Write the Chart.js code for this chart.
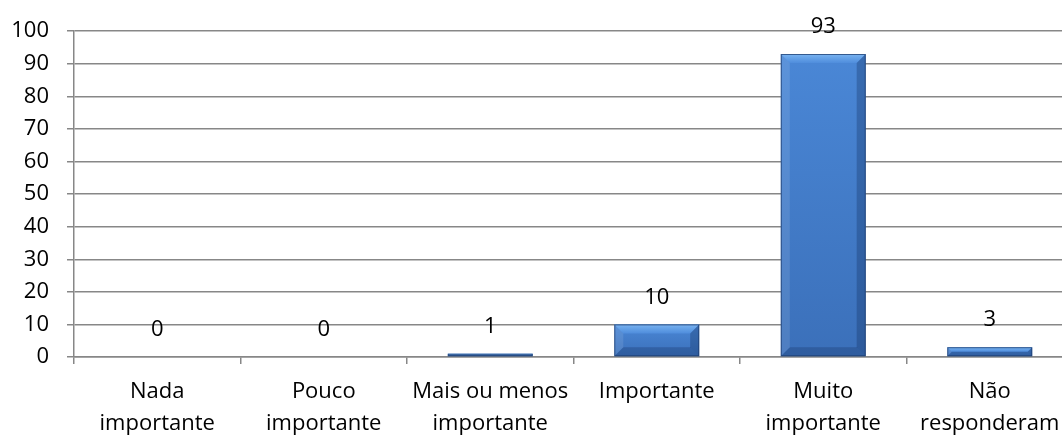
<!DOCTYPE html>
<html>
<head>
<meta charset="utf-8">
<script src="https://cdn.jsdelivr.net/npm/chart.js@4"></script>
<style>
  html, body { margin: 0; padding: 0; background: #fff; overflow: hidden; }
  #wrap { width: 1080px; height: 436px; }
</style>
</head>
<body>
<div id="wrap"><canvas id="importanceChart"></canvas></div>
<script>
/*******************************************************
 * DATA
 *******************************************************/
const CATEGORIES = [
  ["Nada", "importante"],
  ["Pouco", "importante"],
  ["Mais ou menos", "importante"],
  ["Importante"],
  ["Muito", "importante"],
  ["Não", "responderam"]
];
const RESPONSES = [0, 0, 1, 10, 93, 3];
const Y_TICKS = [0, 10, 20, 30, 40, 50, 60, 70, 80, 90, 100];

const FONT = { family: "'Open Sans', sans-serif", size: 22 };
const GRID_GRAY = "#878787";

/*******************************************************
 * PLUGINS
 *******************************************************/
// soft drop shadow under the bars
const barShadow = {
  id: "barShadow",
  beforeDatasetsDraw(chart) {
    const ctx = chart.ctx;
    ctx.save();
    ctx.shadowColor = "rgba(0,0,0,0.35)";
    ctx.shadowBlur = 5;
    ctx.shadowOffsetX = 1;
    ctx.shadowOffsetY = 3;
  },
  afterDatasetsDraw(chart) {
    chart.ctx.restore();
  }
};

// bevelled look on each bar + value on top
const bevelAndLabels = {
  id: "bevelAndLabels",
  afterDatasetsDraw(chart) {
    const ctx = chart.ctx;
    const meta = chart.getDatasetMeta(0);
    const values = chart.data.datasets[0].data;
    meta.data.forEach((bar, i) => {
      const p = bar.getProps(["x", "y", "base", "width"], true);
      const l = p.x - p.width / 2, r = p.x + p.width / 2;
      const t = Math.min(p.y, p.base), bt = Math.max(p.y, p.base);
      const h = bt - t;

      if (h >= 1) {
        const b = Math.min(9, h / 2, p.width / 2);
        ctx.save();
        // face gradient
        const g = ctx.createLinearGradient(0, t, 0, bt);
        g.addColorStop(0, "#4a87d6");
        g.addColorStop(1, "#3b70ba");
        ctx.fillStyle = g;
        ctx.fillRect(l, t, r - l, h);

        const poly = (pts, fill) => {
          ctx.beginPath();
          ctx.moveTo(pts[0][0], pts[0][1]);
          for (let k = 1; k < pts.length; k++) ctx.lineTo(pts[k][0], pts[k][1]);
          ctx.closePath();
          ctx.fillStyle = fill;
          ctx.fill();
        };
        // top bevel
        const tg = ctx.createLinearGradient(0, t, 0, t + b);
        tg.addColorStop(0, "#7db6f2");
        tg.addColorStop(0.35, "#6aa6ea");
        tg.addColorStop(1, "#4f8ddc");
        poly([[l, t], [r, t], [r - b, t + b], [l + b, t + b]], tg);
        // left bevel
        poly([[l, t], [l + b, t + b], [l + b, bt - b], [l, bt]], "rgba(255,255,255,0.10)");
        // right bevel
        poly([[r, t], [r, bt], [r - b, bt - b], [r - b, t + b]], "rgba(10,35,80,0.28)");
        // bottom bevel
        poly([[l, bt], [l + b, bt - b], [r - b, bt - b], [r, bt]], "rgba(10,35,80,0.25)");
        // outline
        ctx.strokeStyle = "rgba(30,60,110,0.75)";
        ctx.lineWidth = 1;
        ctx.strokeRect(l + 0.5, t + 0.5, r - l - 1, h - 1);
        ctx.restore();
      }

      // value label
      ctx.save();
      ctx.font = `${FONT.size}px ${FONT.family}`;
      ctx.fillStyle = "#000";
      ctx.textAlign = "center";
      ctx.textBaseline = "middle";
      ctx.fillText(String(values[i]), p.x, t - 27);
      ctx.restore();
    });
  }
};

/*******************************************************
 * CHART
 *******************************************************/
function renderChart() {
  const ctx = document.getElementById("importanceChart").getContext("2d");

  new Chart(ctx, {
    type: "bar",
    data: {
      labels: CATEGORIES,
      datasets: [
        {
          data: RESPONSES,
          backgroundColor: "rgba(0,0,0,0)",
          borderWidth: 0,
          categoryPercentage: 1,
          barPercentage: 0.51
        }
      ]
    },
    options: {
      responsive: false,
      animation: false,
      layout: { padding: { top: 28, right: 7, left: 0, bottom: 0 } },
      scales: {
        x: {
          grid: {
            display: true,
            drawOnChartArea: false,
            drawTicks: true,
            offset: true,
            tickLength: 7,
            color: GRID_GRAY,
            lineWidth: 1.5
          },
          border: { display: true, color: GRID_GRAY, width: 1.5 },
          ticks: {
            color: "#000",
            font: { ...FONT, lineHeight: "32px" },
            padding: 12,
            maxRotation: 0,
            autoSkip: false
          },
          afterFit(scale) { scale.height = 79; }
        },
        y: {
          min: 0,
          max: 100,
          afterBuildTicks(scale) {
            scale.ticks = Y_TICKS.map(v => ({ value: v }));
          },
          grid: {
            color: GRID_GRAY,
            lineWidth: 1.5,
            tickLength: 7
          },
          border: { display: true, color: GRID_GRAY, width: 1.5 },
          ticks: {
            color: "#000",
            font: FONT,
            padding: 18
          },
          afterFit(scale) { scale.width = 74; }
        }
      },
      plugins: {
        legend: { display: false },
        tooltip: { enabled: false }
      }
    },
    plugins: [barShadow, bevelAndLabels]
  });
}

const canvas = document.getElementById("importanceChart");
canvas.width = 1080;
canvas.height = 436;
renderChart();
</script>
</body>
</html>
